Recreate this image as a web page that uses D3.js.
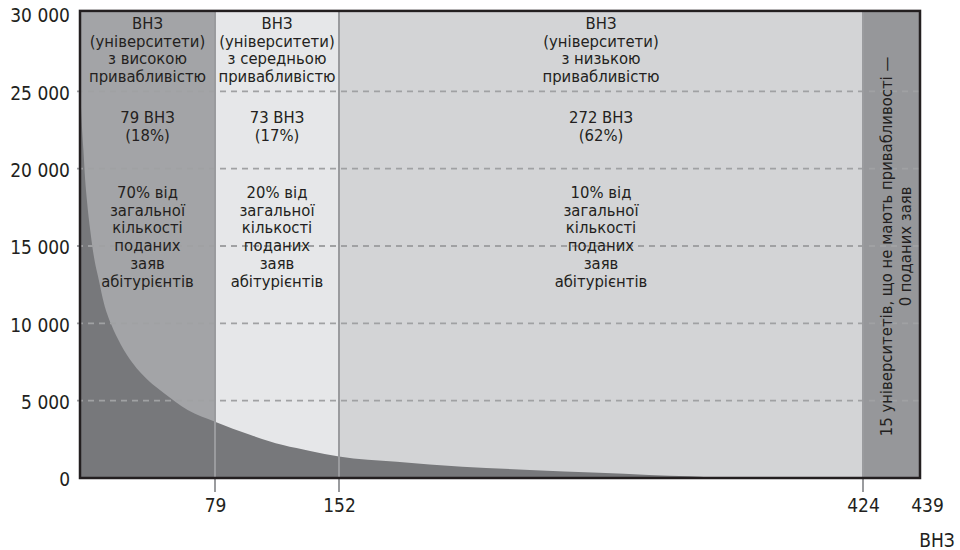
<!DOCTYPE html>
<html>
<head>
<meta charset="utf-8">
<script src="https://cdn.jsdelivr.net/npm/d3@7"></script>
<style>
  html, body { margin: 0; padding: 0; background: #ffffff; }
  svg { display: block; }
  .cond { font-family: "DejaVu Sans Condensed", "DejaVu Sans", sans-serif; font-stretch: condensed; }
</style>
</head>
<body>
<svg id="chart" width="960" height="550"></svg>
<script>
// ---- data ----
const xBreaks = [0, 79, 152, 424, 439];              // region boundaries (number of ВНЗ)
const xTickValues = [79, 152, 424, 439];
const yTickValues = [0, 5000, 10000, 15000, 20000, 25000, 30000];
const yTickLabels = ["0", "5 000", "10 000", "15 000", "20 000", "25 000", "30 000"];
const xAxisTitle = "ВНЗ";

// applications per university (rank, value)
const curveRank  = [0, 1, 2, 3, 4, 6, 8, 11, 14, 18, 24, 31, 40, 49, 63, 79, 100, 119, 135, 152, 182, 216, 251, 287, 313, 334, 345, 360, 424];
const curveValue = [25500, 23000, 21200, 19300, 18000, 16000, 14400, 12800, 11300, 10000, 8600, 7400, 6300, 5500, 4400, 3640, 2780, 2130, 1750, 1390, 1050, 730, 520, 340, 200, 110, 40, 0, 0];

const regionTitles = [
  ["ВНЗ", "(університети)", "з високою", "привабливістю"],
  ["ВНЗ", "(університети)", "з середньою", "привабливістю"],
  ["ВНЗ", "(університети)", "з низькою", "привабливістю"]
];
const regionCounts = [
  ["79 ВНЗ", "(18%)"],
  ["73 ВНЗ", "(17%)"],
  ["272 ВНЗ", "(62%)"]
];
const regionShares = [
  ["70% від", "загальної", "кількості", "поданих", "заяв", "абітурієнтів"],
  ["20% від", "загальної", "кількості", "поданих", "заяв", "абітурієнтів"],
  ["10% від", "загальної", "кількості", "поданих", "заяв", "абітурієнтів"]
];
const lastRegionText = ["15 університетів, що не мають привабливості —", "0 поданих заяв"];

// ---- styles ----
const regionColors = ["#a3a4a7", "#e6e7e9", "#d3d4d6", "#96979a"];
const areaColor = "#77787b";
const inkColor = "#231f20";

// ---- scales ----
const svg = d3.select("#chart");
const x = d3.scaleLinear().domain(xBreaks).range([80, 215, 339, 863, 920]);
const y = d3.scaleLinear().domain([0, 30000]).range([478, 14]);
const yTop = y(30200);

// regions
const regions = d3.range(xBreaks.length - 1).map(i => [xBreaks[i], xBreaks[i + 1]]);
svg.append("g").selectAll("rect").data(regions).join("rect")
  .attr("x", d => x(d[0])).attr("width", d => x(d[1]) - x(d[0]))
  .attr("y", yTop).attr("height", y(0) - yTop)
  .attr("fill", (d, i) => regionColors[i]);

// area
const pts = curveRank.map((r, i) => [r, curveValue[i]]);
const area = d3.area().x(d => x(d[0])).y0(y(0)).y1(d => y(d[1])).curve(d3.curveMonotoneX);
svg.append("path").datum(pts).attr("d", area).attr("fill", areaColor);

// grid
svg.append("g").selectAll("line").data(yTickValues.filter(v => v > 0 && v < 30000)).join("line")
  .attr("x1", x(0) - 3).attr("x2", x(439))
  .attr("y1", d => y(d)).attr("y2", d => y(d))
  .attr("stroke", "#a0a1a3").attr("stroke-width", 1.8).attr("stroke-dasharray", "6,5");

// boundary lines
svg.append("g").selectAll("line").data(xTickValues.slice(0, 3)).join("line")
  .attr("x1", d => x(d)).attr("x2", d => x(d))
  .attr("y1", yTop).attr("y2", y(0) + 14)
  .attr("stroke", "#9a9b9e").attr("stroke-width", 2);

// frame
svg.append("rect")
  .attr("x", x(0)).attr("y", yTop)
  .attr("width", x(439) - x(0)).attr("height", y(0) - yTop)
  .attr("fill", "none").attr("stroke", inkColor).attr("stroke-width", 2.5);

// y axis labels
const yAxis = d3.axisLeft(y).tickValues(yTickValues).tickFormat((d, i) => yTickLabels[i]).tickSize(0).tickPadding(10);
const gy = svg.append("g").attr("transform", `translate(${x(0)},0)`).call(yAxis);
gy.select(".domain").remove();
gy.selectAll("text").attr("class", "cond").attr("font-size", 19).attr("fill", inkColor).attr("dy", "0.42em");

// x axis labels
const xAxis = d3.axisBottom(x).tickValues(xTickValues).tickFormat(d3.format("d")).tickSize(0).tickPadding(0);
const gx = svg.append("g").attr("transform", `translate(0,${y(0)})`).call(xAxis);
gx.select(".domain").remove();
gx.selectAll("text").attr("class", "cond").attr("font-size", 19).attr("fill", inkColor)
  .attr("dy", 0).attr("y", 34)
  .attr("dx", d => d === 439 ? 7 : 0);
svg.append("text").attr("class", "cond").attr("font-size", 19).attr("fill", inkColor)
  .attr("text-anchor", "middle").attr("x", x(439) + 17).attr("y", 547).text(xAxisTitle);

// region texts
const lh = 17.7;
function block(lines, cx, y0) {
  const t = svg.append("text").attr("class", "cond").attr("font-size", 16.5)
    .attr("fill", inkColor).attr("text-anchor", "middle");
  lines.forEach((s, i) => t.append("tspan").attr("x", cx).attr("y", y0 + i * lh).text(s));
}
regions.slice(0, 3).forEach((r, i) => {
  const cx = (x(r[0]) + x(r[1])) / 2;
  block(regionTitles[i], cx, 29);
  block(regionCounts[i], cx, 123);
  block(regionShares[i], cx, 198);
});

// vertical text in last region
const cyV = (yTop + y(0)) / 2;
lastRegionText.forEach((s, i) => {
  const bx = 892 + i * 19;
  svg.append("text").attr("class", "cond").attr("font-size", 16.5).attr("fill", inkColor)
    .attr("text-anchor", "middle")
    .attr("transform", `translate(${bx},${cyV + 2}) rotate(-90)`)
    .text(s);
});
</script>
</body>
</html>
